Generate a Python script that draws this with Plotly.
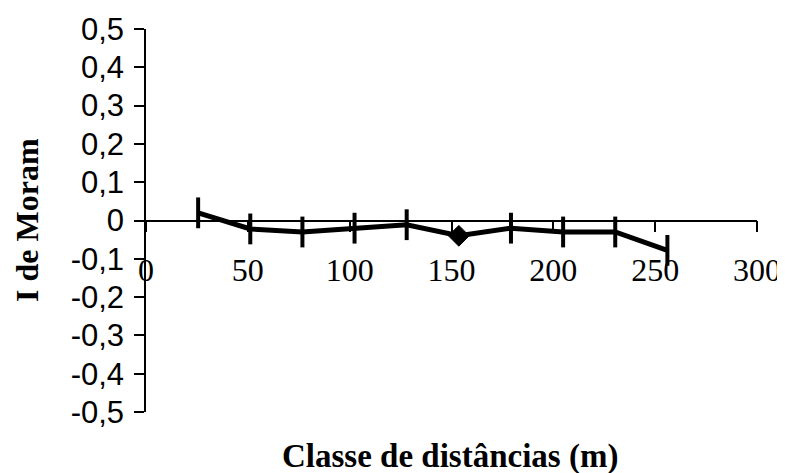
import plotly.graph_objects as go

# Data
distance_classes = [25.6, 51.2, 76.8, 102.4, 128, 153.6, 179.2, 204.8, 230.4, 256]
moran_i = [0.02, -0.022, -0.03, -0.02, -0.011, -0.04, -0.02, -0.03, -0.03, -0.078]
marker_symbols = ["line-ns"] * 5 + ["diamond"] + ["line-ns"] * 4

x_tick_vals = [0, 50, 100, 150, 200, 250, 300]
x_tick_text = ["0", "50", "100", "150", "200", "250", "300"]
y_tick_vals = [0.5, 0.4, 0.3, 0.2, 0.1, 0, -0.1, -0.2, -0.3, -0.4, -0.5]
y_tick_text = ["0,5", "0,4", "0,3", "0,2", "0,1", "0", "-0,1", "-0,2", "-0,3", "-0,4", "-0,5"]

x_title = "Classe de distâncias (m)"
y_title = "I de Moram"

tick_idx = [i for i, s in enumerate(marker_symbols) if s == "line-ns"]
dia_idx = [i for i, s in enumerate(marker_symbols) if s == "diamond"]

fig = go.Figure()
fig.add_trace(go.Scatter(
    x=distance_classes, y=moran_i, mode="lines",
    line=dict(color="black", width=5),
    showlegend=False, hoverinfo="skip",
))
fig.add_trace(go.Scatter(
    x=[distance_classes[i] for i in tick_idx], y=[moran_i[i] for i in tick_idx],
    mode="markers",
    marker=dict(symbol="line-ns", size=22, color="black",
                line=dict(color="black", width=4)),
    showlegend=False,
))
fig.add_trace(go.Scatter(
    x=[distance_classes[i] for i in dia_idx], y=[moran_i[i] for i in dia_idx],
    mode="markers",
    marker=dict(symbol="diamond", size=16, color="black",
                line=dict(color="black", width=1)),
    showlegend=False,
))

# The page body has an 8px default margin, so the figure is 8px smaller
fig.update_layout(
    template="none",
    width=777, height=465,
    margin=dict(l=138, r=28, t=21, b=60.5),
    paper_bgcolor="white", plot_bgcolor="white",
    separators=",.",
    xaxis=dict(
        range=[0, 300], anchor="free", position=0.5, automargin=False,
        tickvals=x_tick_vals, ticktext=x_tick_text,
        ticks="outside", ticklen=11, tickwidth=1.5, tickcolor="black",
        showline=True, linecolor="black", linewidth=1.5,
        showgrid=False, zeroline=False,
        tickfont=dict(family="Liberation Serif", size=32, color="black"),
        ticklabelstandoff=10,
    ),
    yaxis=dict(
        range=[-0.5, 0.5], automargin=False,
        tickvals=y_tick_vals, ticktext=y_tick_text,
        ticks="outside", ticklen=10, tickwidth=1.5, tickcolor="black",
        showline=True, linecolor="black", linewidth=1.5,
        showgrid=False, zeroline=False,
        tickfont=dict(family="Liberation Sans", size=31, color="black"),
        ticklabelstandoff=4,
    ),
    annotations=[
        dict(text="<b>" + x_title + "</b>", xref="paper", yref="paper",
             x=0.4975, y=-0.116, xanchor="center", yanchor="middle",
             showarrow=False,
             font=dict(family="Liberation Serif", size=33, color="black")),
        dict(text="<b>" + y_title + "</b>", xref="paper", yref="paper",
             x=-0.196, y=0.502, xanchor="center", yanchor="middle",
             textangle=-90, showarrow=False,
             font=dict(family="Liberation Serif", size=32, color="black")),
    ],
)

fig.write_html("out.html")
